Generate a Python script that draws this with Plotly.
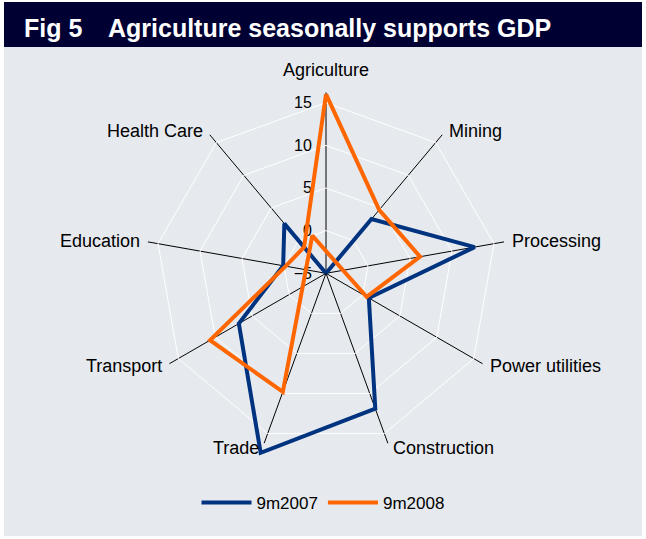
import math
import plotly.graph_objects as go

# Real GDP growth by sector, % y/y
categories = ["Agriculture", "Mining", "Processing", "Power utilities", "Construction",
              "Trade", "Transport", "Education", "Health Care"]
growth_9m2007 = [-5.0, 3.3, 12.7, 0.8, 11.9, 17.4, 6.8, 0.1, 2.6]
growth_9m2008 = [16.0, 4.7, 6.2, 0.5, -9.7, 9.8, 10.7, -0.2, -1.0]
radial_ticks = [-5, 0, 5, 10, 15]

W, H = 646, 539
R_MIN, R_MAX = -5, 16.2      # grid frame: spokes run out to R_MAX
R_MAX_DATA = 18.5            # data layer reaches a little further
STEP = 360 / len(categories)

# plot centre and frame radius in pixels
CX, CY, RAD = 326, 273.3, 180.8
PX_PER_UNIT = RAD / (R_MAX - R_MIN)
RAD_DATA = PX_PER_UNIT * (R_MAX_DATA - R_MIN)


def px_x(x):
    return x / W


def px_y(y):
    return 1 - y / H


def domain_for(rad):
    return dict(x=[px_x(CX - rad), px_x(CX + rad)],
                y=[px_y(CY + rad), px_y(CY - rad)])


def radar_points(values):
    """Radar placement where values under the axis minimum run through the
    centre onto the opposite spoke."""
    r, theta = [], []
    for i, v in enumerate(values):
        ang = i * STEP
        if v < R_MIN:
            r.append(2 * R_MIN - v)
            theta.append(ang + 180)
        else:
            r.append(v)
            theta.append(ang)
    r.append(r[0])
    theta.append(theta[0])
    return r, theta


font_family = "Liberation Sans, Arial, sans-serif"

fig = go.Figure()

# category frame (carries the polygon grid and spokes)
fig.add_trace(go.Scatterpolar(
    r=[R_MIN] * len(categories), theta=categories, subplot="polar",
    mode="lines", line=dict(width=0), opacity=0,
    showlegend=False, hoverinfo="skip"))

series = [("9m2007", growth_9m2007, "#00337F"),
          ("9m2008", growth_9m2008, "#FF6600")]
for name, vals, color in series:
    r, theta = radar_points(vals)
    fig.add_trace(go.Scatterpolar(
        r=r, theta=theta, subplot="polar2", name=name, mode="lines",
        line=dict(color=color, width=4, shape="linear"),
        cliponaxis=False))

# category labels sit just beyond the end of each spoke
label_annotations = []
for i, cat in enumerate(categories):
    a = math.radians(90 - i * STEP)
    c, s = math.cos(a), math.sin(a)
    x = CX + RAD * c
    y = CY - RAD * s
    if abs(c) < 0.1:
        xanchor, xshift = "center", 0
        yanchor, yshift = ("bottom", 10) if s > 0 else ("top", -10)
    else:
        xanchor = "left" if c > 0 else "right"
        xshift = (2 + 4 * abs(c)) * (1 if c > 0 else -1)
        yanchor, yshift = "middle", 5 * s
    label_annotations.append(dict(
        text=cat, xref="paper", yref="paper", x=px_x(x), y=px_y(y),
        xanchor=xanchor, yanchor=yanchor, xshift=xshift, yshift=yshift,
        showarrow=False, font=dict(size=18, family=font_family, color="black")))

title_annotations = [
    dict(text="<b>Fig 5</b>", xref="paper", yref="paper",
         x=px_x(22), y=px_y(28), xanchor="left", yanchor="middle",
         showarrow=False, font=dict(size=25, color="white", family=font_family)),
    dict(text="<b>Agriculture seasonally supports GDP</b>", xref="paper", yref="paper",
         x=px_x(106), y=px_y(28), xanchor="left", yanchor="middle",
         showarrow=False, font=dict(size=25, color="white", family=font_family)),
]

fig.update_layout(
    width=W, height=H,
    margin=dict(l=0, r=0, t=0, b=0),
    paper_bgcolor="white",
    plot_bgcolor="rgba(0,0,0,0)",
    font=dict(family=font_family, color="black"),
    showlegend=True,
    legend=dict(orientation="h", x=0.5, xanchor="center",
                y=px_y(503), yanchor="middle",
                font=dict(size=17, family=font_family),
                bgcolor="rgba(0,0,0,0)", itemwidth=50),
    polar=dict(
        domain=domain_for(RAD),
        bgcolor="rgba(0,0,0,0)",
        gridshape="linear",
        angularaxis=dict(type="category", categoryorder="array",
                         categoryarray=categories, rotation=90,
                         direction="clockwise", showline=False,
                         showgrid=True, gridcolor="black", gridwidth=1,
                         ticks="", showticklabels=False),
        radialaxis=dict(range=[R_MIN, R_MAX], tickmode="array",
                        tickvals=radial_ticks, showline=False,
                        showgrid=True, gridcolor="white", gridwidth=1,
                        ticks="outside", ticklen=8, tickcolor="rgba(0,0,0,0)",
                        angle=90, tickangle=90,
                        side="counterclockwise",
                        tickfont=dict(size=16, family=font_family)),
    ),
    polar2=dict(
        domain=domain_for(RAD_DATA),
        bgcolor="rgba(0,0,0,0)",
        angularaxis=dict(rotation=90, direction="clockwise", visible=False,
                         showgrid=False, showline=False, showticklabels=False),
        radialaxis=dict(range=[R_MIN, R_MAX_DATA], visible=False, showgrid=False,
                        showline=False, showticklabels=False),
    ),
    shapes=[
        dict(type="rect", xref="paper", yref="paper", layer="below",
             x0=px_x(4), x1=px_x(642), y0=px_y(536), y1=px_y(47),
             fillcolor="#E6E9EE", line=dict(width=0)),
        dict(type="rect", xref="paper", yref="paper", layer="below",
             x0=px_x(4), x1=px_x(642), y0=px_y(47), y1=px_y(2),
             fillcolor="#000033", line=dict(width=0)),
    ],
    annotations=title_annotations + label_annotations,
)

fig.write_html("out.html")
